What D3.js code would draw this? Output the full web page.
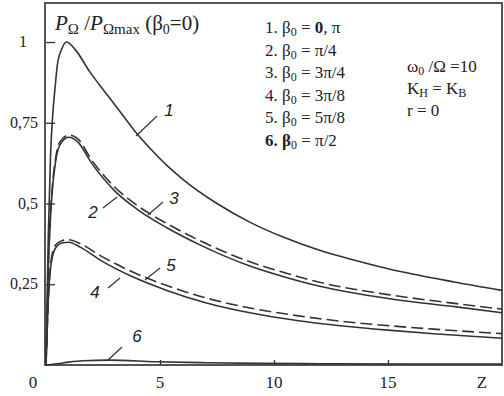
<!DOCTYPE html>
<html>
<head>
<meta charset="utf-8">
<script src="https://cdn.jsdelivr.net/npm/d3@7"></script>
<style>
  body { margin: 0; background: #fff; }
  svg { display: block; }
  .serif { font-family: "Liberation Serif", "DejaVu Serif", serif; fill: #222; }
  .num { font-family: "Liberation Sans", Arial, sans-serif; font-style: italic; fill: #222; font-size: 17px; }
</style>
</head>
<body>
<div id="chart"></div>
<script>
// curve data: z and P/Pmax
const z1 = [0, 0.1, 0.2, 0.3, 0.4, 0.5, 0.7, 0.9, 1.3, 1.9, 2.7, 3.4, 4.0, 4.6, 5.3, 6, 7.5, 9, 10.4, 12, 13.5, 15, 17.9, 20];
const p1 = [0, 0.4, 0.65, 0.78, 0.86, 0.93, 0.98, 1.0, 0.975, 0.91, 0.835, 0.77, 0.715, 0.668, 0.618, 0.575, 0.5, 0.44, 0.396, 0.355, 0.325, 0.298, 0.257, 0.231];

const z2 = [0, 0.1, 0.2, 0.3, 0.4, 0.6, 1.0, 1.4, 2, 3, 4, 5.3, 6.75, 9, 10.5, 12, 15, 18, 20];
const p2 = [0, 0.3, 0.46, 0.56, 0.62, 0.68, 0.705, 0.69, 0.625, 0.54, 0.482, 0.425, 0.372, 0.305, 0.272, 0.244, 0.206, 0.18, 0.162];
const p3 = [0, 0.3, 0.47, 0.57, 0.63, 0.69, 0.712, 0.70, 0.635, 0.552, 0.494, 0.438, 0.385, 0.318, 0.285, 0.256, 0.218, 0.19, 0.173];

const z4 = [0, 0.1, 0.2, 0.4, 0.7, 1.0, 1.5, 2.4, 3.8, 5.3, 7, 9, 11, 13, 15, 17, 20];
const p4 = [0, 0.2, 0.3, 0.36, 0.378, 0.38, 0.365, 0.324, 0.273, 0.231, 0.193, 0.161, 0.138, 0.121, 0.108, 0.097, 0.083];
const p5 = [0, 0.2, 0.31, 0.37, 0.385, 0.388, 0.376, 0.338, 0.288, 0.246, 0.208, 0.176, 0.153, 0.135, 0.122, 0.111, 0.097];

const z6 = [0, 0.5, 1.0, 1.6, 2.8, 4.8, 7, 9.4, 12, 16, 20];
const p6 = [0, 0.004, 0.009, 0.013, 0.015, 0.01, 0.007, 0.005, 0.004, 0.003, 0.003];

const xTicks = [0, 5, 10, 15];
const yTicks = [0.25, 0.5, 0.75, 1];
const yTickLabels = ["0,25", "0,5", "0,75", "1"];

const W = 504, H = 396;
const svg = d3.select("#chart").append("svg").attr("width", W).attr("height", H);

const x = d3.scaleLinear().domain([0, 20]).range([46, 502]);
const y = d3.scaleLinear().domain([0, 1.124]).range([365, 2]);

// frame
svg.append("rect")
    .attr("x", x(0) - 1).attr("y", y(1.124) + 1)
    .attr("width", x(20) - x(0) + 1).attr("height", y(0) - y(1.124) - 1)
    .attr("fill", "none").attr("stroke", "#555").attr("stroke-width", 2);

// y ticks inside
svg.append("g")
    .attr("transform", "translate(" + x(0) + ",0)")
    .call(d3.axisRight(y).tickValues(yTicks).tickSize(9).tickFormat(""))
    .call(g => g.select(".domain").remove())
    .call(g => g.selectAll("line").attr("stroke", "#333").attr("stroke-width", 1.3));

svg.selectAll(".ylab").data(yTicks).enter().append("text")
    .attr("class", "serif")
    .attr("x", (d, i) => d === 1 ? 27 : 38)
    .attr("y", d => y(d) + 5)
    .attr("text-anchor", "end")
    .attr("font-size", 16)
    .text((d, i) => yTickLabels[i]);

// x ticks inside
svg.append("g")
    .attr("transform", "translate(0," + y(0) + ")")
    .call(d3.axisTop(x).tickValues(xTicks.slice(1)).tickSize(5).tickFormat(""))
    .call(g => g.select(".domain").remove())
    .call(g => g.selectAll("line").attr("stroke", "#333").attr("stroke-width", 1.3));

svg.selectAll(".xlab").data(xTicks).enter().append("text")
    .attr("class", "serif")
    .attr("x", d => d === 0 ? 33 : x(d))
    .attr("y", 388)
    .attr("text-anchor", "middle")
    .attr("font-size", 17)
    .text(d => d);

svg.append("text").attr("class", "serif")
    .attr("x", 482).attr("y", 388).attr("text-anchor", "middle")
    .attr("font-size", 17).text("Z");

// curves
const line = d3.line()
    .x(d => x(d[0]))
    .y(d => y(d[1]))
    .curve(d3.curveMonotoneX);

const series = [
    {z: z1, p: p1, dash: null},
    {z: z2, p: p2, dash: null},
    {z: z2, p: p3, dash: "12,5"},
    {z: z4, p: p4, dash: null},
    {z: z4, p: p5, dash: "12,5"},
    {z: z6, p: p6, dash: null}
];

svg.append("g").selectAll("path").data(series).enter().append("path")
    .attr("d", s => line(s.z.map((v, i) => [v, s.p[i]])))
    .attr("fill", "none")
    .attr("stroke", "#333")
    .attr("stroke-width", 1.6)
    .attr("stroke-dasharray", s => s.dash);

// curve labels with leader lines
const labels = [
    {t: "1", lx: 169, ly: 116, x1: 136, y1: 136, x2: 157, y2: 116},
    {t: "2", lx: 93, ly: 218, x1: 103, y1: 208, x2: 117, y2: 197},
    {t: "3", lx: 174, ly: 204, x1: 148, y1: 215, x2: 163, y2: 202},
    {t: "4", lx: 95, ly: 298, x1: 108, y1: 288, x2: 120, y2: 278},
    {t: "5", lx: 171, ly: 271, x1: 145, y1: 280, x2: 160, y2: 268},
    {t: "6", lx: 137, ly: 342, x1: 107, y1: 361, x2: 122, y2: 347}
];
const lg = svg.append("g");
lg.selectAll("line").data(labels).enter().append("line")
    .attr("x1", d => d.x1).attr("y1", d => d.y1)
    .attr("x2", d => d.x2).attr("y2", d => d.y2)
    .attr("stroke", "#333").attr("stroke-width", 1.2);
lg.selectAll("text").data(labels).enter().append("text")
    .attr("class", "num")
    .attr("x", d => d.lx).attr("y", d => d.ly)
    .attr("text-anchor", "middle")
    .text(d => d.t);

// title
const title = svg.append("text").attr("class", "serif").attr("x", 55).attr("y", 30).attr("font-size", 21);
title.append("tspan").attr("font-style", "italic").text("P");
title.append("tspan").attr("font-size", 15).attr("dy", 4).text("Ω");
title.append("tspan").attr("dy", -4).text(" /");
title.append("tspan").attr("font-style", "italic").text("P");
title.append("tspan").attr("font-size", 15).attr("dy", 4).text("Ωmax");
title.append("tspan").attr("dy", -4).text(" (β");
title.append("tspan").attr("font-size", 14).attr("dy", 4).text("0");
title.append("tspan").attr("dy", -4).text("=0)");

// legend
const legend = [
    {n: "1.", bold: false, val: [["0", true], [", π", false]]},
    {n: "2.", bold: false, val: [["π/4", false]]},
    {n: "3.", bold: false, val: [["3π/4", false]]},
    {n: "4.", bold: false, val: [["3π/8", false]]},
    {n: "5.", bold: false, val: [["5π/8", false]]},
    {n: "6.", bold: true, val: [["π/2", false]]}
];
legend.forEach((d, i) => {
    const t = svg.append("text").attr("class", "serif")
        .attr("x", 265).attr("y", 33 + i * 22.6).attr("font-size", 17);
    t.append("tspan").attr("font-weight", d.bold ? "bold" : null).text(d.n + " β");
    t.append("tspan").attr("font-size", 12).attr("dy", 3).text("0");
    t.append("tspan").attr("dy", -3).text(" = ");
    d.val.forEach(v => t.append("tspan").attr("font-weight", v[1] ? "bold" : null).text(v[0]));
});

// parameters
const p = svg.append("g").attr("class", "serif").attr("font-size", 17);
const t1 = p.append("text").attr("x", 407).attr("y", 72);
t1.append("tspan").text("ω");
t1.append("tspan").attr("font-size", 12).attr("dy", 3).text("0");
t1.append("tspan").attr("dy", -3).text(" /Ω =10");
const t2 = p.append("text").attr("x", 407).attr("y", 94);
t2.append("tspan").text("K");
t2.append("tspan").attr("font-size", 12).attr("dy", 3).text("H");
t2.append("tspan").attr("dy", -3).text(" = K");
t2.append("tspan").attr("font-size", 12).attr("dy", 3).text("B");
p.append("text").attr("x", 407).attr("y", 116).text("r = 0");
</script>
</body>
</html>
